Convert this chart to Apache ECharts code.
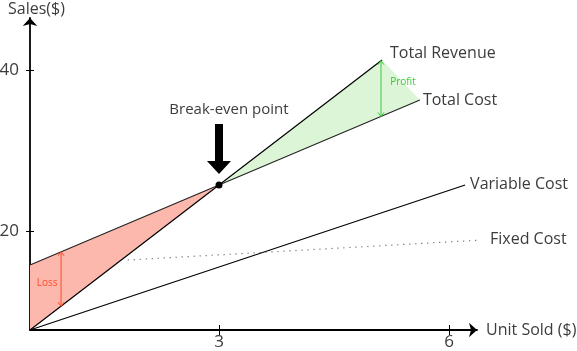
<!DOCTYPE html>
<html>
<head>
<meta charset="utf-8">
<title>Break-even chart</title>
<script src="https://cdn.jsdelivr.net/npm/echarts@6/dist/echarts.min.js"></script>
<style>
  html, body { margin: 0; padding: 0; background: #fff; }
  #chart { width: 577px; height: 351px; }
</style>
</head>
<body>
<div id="chart"></div>
<script>
// the drawing does not start at 0, the axes are cut
var xRange = [0.535, 6.365];
var yRange = [7.8, 46.44];
var xTicks = [3, 6];
var yTicks = [20, 40];

// [unit sold, sales]
var revenueLine = [[0.535, 7.8], [3, 25.76], [5.126, 41.24]];
var totalCostLine = [[0.535, 15.85], [3, 25.76], [5.62, 36.28]];
var variableCostLine = [[0.535, 7.8], [6.21, 25.76]];
var fixedCostLine = [[1.81, 16.47], [6.44, 18.95]];
var breakEven = [3, 25.76];

// shaded areas
var lossArea = [[0.535, 15.85], [3, 25.76], [0.535, 7.8]];
var profitArea = [[3, 25.76], [5.126, 41.24], [5.62, 36.28]];

// [x, low, high]
var lossArrow = [0.94, 10.75, 17.48];
var profitArrow = [5.113, 34.24, 41.15];

var textColor = '#3c3c3c';
var font = '"Open Sans", sans-serif';

function areaSeries(points, color) {
	return {
		type: 'custom',
		silent: true,
		z: 1,
		renderItem: function (params, api) {
			if (params.dataIndex !== 0) return;
			return {
				type: 'polygon',
				shape: { points: points.map(function (p) { return api.coord(p); }) },
				style: { fill: color }
			};
		},
		data: points
	};
}

function arrowSeries(a, color, text, dx, dy) {
	return {
		type: 'custom',
		silent: true,
		z: 5,
		renderItem: function (params, api) {
			var lo = api.coord([a[0], a[1]]);
			var hi = api.coord([a[0], a[2]]);
			var w = 3, h = 4;
			var st = { stroke: color, fill: null, lineWidth: 1 };
			return {
				type: 'group',
				children: [
					{ type: 'line', shape: { x1: lo[0], y1: lo[1], x2: hi[0], y2: hi[1] }, style: st },
					{ type: 'polyline', shape: { points: [[hi[0] - w, hi[1] + h], hi, [hi[0] + w, hi[1] + h]] }, style: st },
					{ type: 'polyline', shape: { points: [[lo[0] - w, lo[1] - h], lo, [lo[0] + w, lo[1] - h]] }, style: st },
					{ type: 'text', x: lo[0] + dx, y: (lo[1] + hi[1]) / 2 + dy,
						style: { text: text, fill: color, font: '10px ' + font, align: 'center', verticalAlign: 'middle' } }
				]
			};
		},
		data: [a]
	};
}

function lineSeries(name, data, style, dx, dy) {
	return {
		name: name,
		type: 'line',
		data: data,
		showSymbol: false,
		clip: false,
		silent: true,
		z: 3,
		lineStyle: style,
		endLabel: {
			show: true,
			formatter: '{a}',
			color: textColor,
			fontFamily: font,
			fontSize: 16,
			offset: [dx, dy]
		}
	};
}

var myChart = echarts.init(document.getElementById('chart'));
myChart.setOption({
	animation: false,
	grid: { left: 30, right: 100, top: 18, bottom: 21, outerBoundsMode: 'none' },
	xAxis: [{
		type: 'value',
		min: xRange[0], max: xRange[1],
		name: 'Unit Sold ($)',
		nameGap: 9,
		nameTextStyle: { color: textColor, fontFamily: font, fontSize: 16 },
		splitLine: { show: false },
		axisLine: { lineStyle: { color: '#000', width: 1.8 }, symbol: ['none', 'arrow'], symbolSize: [11, 8] },
		axisTick: { length: 5, lineStyle: { color: '#000' }, customValues: xTicks },
		axisLabel: { customValues: xTicks, margin: 4, color: textColor, fontFamily: font, fontSize: 17 }
	}, {
		type: 'value',
		position: 'bottom',
		min: xRange[0], max: xRange[1],
		splitLine: { show: false },
		axisLine: { show: false },
		axisLabel: { show: false },
		axisTick: { inside: true, length: 5, lineStyle: { color: '#000' }, customValues: xTicks }
	}],
	yAxis: [{
		type: 'value',
		min: yRange[0], max: yRange[1],
		name: 'Sales($)',
		nameGap: 1,
		nameTextStyle: { color: textColor, fontFamily: font, fontSize: 16, padding: [0, 0, 0, 13] },
		splitLine: { show: false },
		axisLine: { lineStyle: { color: '#000', width: 1.8 }, symbol: ['none', 'arrow'], symbolSize: [11, 8] },
		axisTick: { length: 4, lineStyle: { color: '#000' }, customValues: yTicks },
		axisLabel: { customValues: yTicks, margin: 11, color: textColor, fontFamily: font, fontSize: 17 }
	}, {
		type: 'value',
		position: 'left',
		min: yRange[0], max: yRange[1],
		splitLine: { show: false },
		axisLine: { show: false },
		axisLabel: { show: false },
		axisTick: { inside: true, length: 4, lineStyle: { color: '#000' }, customValues: yTicks }
	}],
	series: [
		areaSeries(lossArea, '#fcb8ad'),
		areaSeries(profitArea, '#dcf5d6'),
		lineSeries('Total Revenue', revenueLine, { color: '#000', width: 1.2 }, 0, -7),
		lineSeries('Total Cost', totalCostLine, { color: '#222', width: 1.1 }, -5, 0),
		lineSeries('Variable Cost', variableCostLine, { color: '#000', width: 1.2 }, -3, -1),
		lineSeries('Fixed Cost', fixedCostLine, { color: '#555', width: 1.2, type: [1, 5] }, 3, -1),
		arrowSeries(lossArrow, '#ff4a26', 'Loss', -14, 4),
		arrowSeries(profitArrow, '#3cc83c', 'Profit', 22, -6),
		{
			type: 'custom',
			silent: true,
			z: 6,
			renderItem: function (params, api) {
				var p = api.coord(breakEven);
				var x = p[0], y = p[1];
				return {
					type: 'group',
					children: [
						{ type: 'circle', shape: { cx: x, cy: y, r: 3.5 }, style: { fill: '#000' } },
						{ type: 'polygon', shape: { points: [
							[x - 4, y - 61], [x + 4, y - 61], [x + 4, y - 24], [x + 12, y - 24],
							[x, y - 11], [x - 12, y - 24], [x - 4, y - 24]
						] }, style: { fill: '#000' } },
						{ type: 'text', x: x + 10, y: y - 75,
							style: { text: 'Break-even point', fill: textColor, font: '15px ' + font, align: 'center', verticalAlign: 'middle' } }
					]
				};
			},
			data: [breakEven]
		}
	]
});
</script>
</body>
</html>
